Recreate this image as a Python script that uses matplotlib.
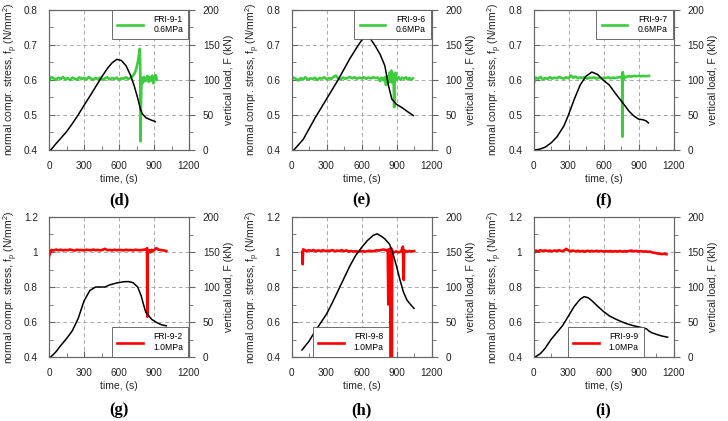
import numpy as np
import matplotlib
matplotlib.use("Agg")
import matplotlib.pyplot as plt
from matplotlib.ticker import MultipleLocator, FuncFormatter

plt.rcParams['font.family'] = ['Liberation Sans', 'DejaVu Sans']

GREEN = '#3ccc3c'
RED = '#ff0000'

# ---- black curves: vertical load F (kN) vs time (s) ----
d_t = [15, 60, 100, 150, 200, 250, 300, 350, 400, 450, 500, 540, 580, 620, 660, 700, 730, 760, 785, 800, 830,
       870, 910]
d_F = [0, 9, 16.5, 26, 37.5, 50, 63.5, 76.5, 90, 103.5, 116, 124, 129, 127.5, 120, 106, 91.5, 74, 57.5, 51.5,
       46, 43, 40.5]

e_t = [20, 100, 200, 300, 400, 500, 560, 600, 640, 680, 720, 760, 800, 830, 860, 900, 950, 1000, 1045]
e_F = [0, 15, 45, 72.5, 100, 130, 146, 156, 162.5, 157.5, 147.5, 136, 120, 92.5, 72.5, 65, 60, 54, 49]

f_t = [5, 50, 100, 150, 200, 260, 300, 350, 400, 450, 500, 550, 600, 650, 700, 770, 820, 860, 900, 940, 965, 985]
f_F = [0, 1, 4, 10, 18.5, 34, 50, 72.5, 92.5, 105, 111, 107.5, 99, 92.5, 81, 66, 55, 48.5, 44, 43, 41.5, 38.5]

g_t = [15, 60, 100, 150, 200, 250, 300, 350, 400, 440, 480, 520, 580, 640, 680, 720, 760, 790, 810, 830, 850,
       880, 920, 960, 1005]
g_F = [0, 7.5, 16.25, 26.25, 37.5, 55, 80, 95, 100, 100, 100, 103, 105.75, 107.5, 107.75, 106.25, 100, 87.5,
       75, 63.75, 60, 53.75, 49.5, 46.25, 44.5]

h_t = [90, 150, 200, 250, 300, 350, 400, 450, 500, 550, 600, 650, 700, 735, 770, 800, 840, 870, 900, 930, 960,
       990, 1020, 1050]
h_F = [10, 22.5, 36.25, 48.75, 61.25, 77.5, 95, 112.5, 130, 145, 156.25, 166.25, 173.75, 176, 172.5, 168.75,
       161.25, 147.5, 130, 110, 92.5, 81.25, 75, 69.5]

i_t = [15, 60, 100, 150, 200, 250, 300, 350, 400, 435, 470, 500, 550, 600, 650, 700, 750, 800, 850, 900, 950,
       970, 990, 1010, 1050, 1100, 1150]
i_F = [0, 5, 12.5, 25, 35, 45, 58.75, 72.5, 82.5, 86.25, 84.5, 80.5, 72.5, 65, 58.75, 54.5, 50.75, 47.5, 45, 43,
       41.25, 40, 37, 35, 32.5, 30, 28.25]

# ---- coloured curves: normal compr. stress fp (N/mm2) ----
# flat part sampled every 20 s, then an irregular tail
d_flat = [0.596, 0.607, 0.604, 0.600, 0.606, 0.602, 0.608, 0.601, 0.605, 0.599, 0.606, 0.603, 0.600, 0.607,
          0.602, 0.605, 0.601, 0.608, 0.603, 0.600, 0.605, 0.602, 0.606, 0.600, 0.604, 0.607, 0.601, 0.605,
          0.602, 0.606, 0.600, 0.604, 0.603, 0.607, 0.602, 0.606]
d_tail_t = [715, 730, 745, 760, 770, 778, 782, 785, 788, 792, 797, 805, 815, 825, 835, 845, 855, 865, 875, 885,
            895, 905, 915, 925]
d_tail = [0.610, 0.616, 0.628, 0.648, 0.668, 0.688, 0.640, 0.425, 0.520, 0.585, 0.605, 0.592, 0.608, 0.596,
          0.603, 0.611, 0.594, 0.607, 0.598, 0.612, 0.590, 0.606, 0.613, 0.600]

e_flat = [0.600, 0.606, 0.602, 0.598, 0.605, 0.601, 0.607, 0.600, 0.604, 0.602, 0.606, 0.599, 0.605, 0.603,
          0.607, 0.601, 0.605, 0.602, 0.608, 0.612, 0.604, 0.601, 0.606, 0.603, 0.605, 0.608, 0.604, 0.607,
          0.603, 0.606, 0.604, 0.607, 0.603, 0.606, 0.604, 0.607, 0.605, 0.606]
e_tail_t = [760, 770, 780, 790, 800, 810, 815, 820, 830, 840, 848, 855, 860, 868, 875, 880, 885, 892, 900, 910,
            920, 935, 950, 965, 980, 995, 1010, 1025, 1040]
e_tail = [0.596, 0.606, 0.604, 0.598, 0.607, 0.585, 0.606, 0.610, 0.590, 0.620, 0.596, 0.626, 0.592, 0.618,
          0.600, 0.522, 0.610, 0.620, 0.600, 0.604, 0.607, 0.600, 0.606, 0.603, 0.607, 0.601, 0.605, 0.600, 0.604]

f_flat = [0.588, 0.606, 0.603, 0.608, 0.601, 0.605, 0.602, 0.607, 0.603, 0.606, 0.604, 0.608, 0.605, 0.603,
          0.607, 0.604, 0.612, 0.606, 0.609, 0.604, 0.607, 0.605, 0.608, 0.603, 0.606, 0.605, 0.607, 0.603,
          0.606, 0.604, 0.606, 0.605, 0.607, 0.604, 0.606, 0.605, 0.606, 0.608]
f_tail_t = [755, 760, 762, 765, 768, 772, 780, 800, 820, 840, 860, 880, 900, 920, 940, 960, 980, 990]
f_tail = [0.606, 0.600, 0.438, 0.622, 0.598, 0.612, 0.605, 0.609, 0.610, 0.609, 0.611, 0.610, 0.611, 0.610,
          0.611, 0.610, 0.611, 0.611]

g_flat = [0.975, 1.012, 1.008, 1.014, 1.010, 1.013, 1.009, 1.012, 1.010, 1.014, 1.011, 1.008, 1.013, 1.010,
          1.012, 1.009, 1.013, 1.011, 1.010, 1.014, 1.010, 1.012, 1.009, 1.013, 1.018, 1.010, 1.012, 1.009,
          1.013, 1.010, 1.012, 1.011, 1.009, 1.013, 1.010, 1.012, 1.009, 1.013, 1.011, 1.010, 1.012, 1.014]
g_tail_t = [835, 840, 843, 846, 850, 860, 870, 880, 890, 900, 910, 920, 935, 950, 970, 990, 1005]
g_tail = [1.016, 1.022, 0.630, 1.012, 1.004, 1.010, 0.998, 1.012, 1.005, 1.011, 1.016, 1.022, 1.014, 1.012,
          1.010, 1.008, 1.006]

h_head_t = [92, 95, 100]
h_head = [1.000, 0.930, 1.015]
h_flat = [1.012, 1.005, 1.010, 1.006, 1.011, 1.004, 1.009, 1.006, 1.010, 1.005, 1.008, 1.006, 1.011, 1.005,
          1.008, 1.006, 1.010, 1.005, 1.009, 1.003, 1.006, 1.002, 1.005, 1.001, 1.004, 1.006, 1.002, 1.005,
          1.007, 1.004, 1.006, 1.010, 1.008, 1.012, 1.014, 1.010]
h_tail_t = [825, 830, 832, 836, 845, 850, 853, 856, 860, 863, 868, 880, 900, 920, 940, 955, 962, 965, 968, 975,
            990, 1010, 1030, 1050]
h_tail = [1.012, 0.700, 1.008, 1.015, 1.018, 0.380, 1.010, 1.020, 0.380, 1.008, 0.992, 1.000, 1.003, 0.998,
          1.004, 1.030, 0.840, 1.010, 1.000, 1.006, 1.002, 1.006, 1.003, 1.005]

i_flat = [0.990, 1.008, 1.004, 1.010, 1.006, 1.009, 1.005, 1.008, 1.004, 1.009, 1.006, 1.010, 1.005, 1.008,
          1.018, 1.009, 1.005, 1.008, 1.004, 1.007, 1.003, 1.006, 1.002, 1.007, 1.004, 1.006, 1.003, 1.007,
          1.004, 1.006, 1.002, 1.005, 1.003, 1.006, 1.002, 1.005, 1.003, 1.006, 1.002, 1.005, 1.003, 1.006,
          1.008, 1.004, 1.006, 1.003, 1.005, 1.002, 1.004, 1.001, 1.002, 0.997, 0.995, 0.992, 0.990, 0.988,
          0.990, 0.987]


def series(flat, start=0, tail_t=(), tail=(), head_t=(), head=()):
    t = list(head_t) + list(start + 20 * np.arange(len(flat))) + list(tail_t)
    v = list(head) + list(flat) + list(tail)
    return t, v


panels = [
    ('(d)', 'FRI-9-1\n0.6MPa', GREEN, series(d_flat, 0, d_tail_t, d_tail), (d_t, d_F), (0.4, 0.8), 'top'),
    ('(e)', 'FRI-9-6\n0.6MPa', GREEN, series(e_flat, 0, e_tail_t, e_tail), (e_t, e_F), (0.4, 0.8), 'top'),
    ('(f)', 'FRI-9-7\n0.6MPa', GREEN, series(f_flat, 0, f_tail_t, f_tail), (f_t, f_F), (0.4, 0.8), 'top'),
    ('(g)', 'FRI-9-2\n1.0MPa', RED, series(g_flat, 0, g_tail_t, g_tail), (g_t, g_F), (0.4, 1.2), 'lr'),
    ('(h)', 'FRI-9-8\n1.0MPa', RED, series(h_flat, 110, h_tail_t, h_tail, h_head_t, h_head), (h_t, h_F),
     (0.4, 1.2), 'll'),
    ('(i)', 'FRI-9-9\n1.0MPa', RED, series(i_flat, 0), (i_t, i_F), (0.4, 1.2), 'lc'),
]

fig = plt.figure(figsize=(7.28, 4.21), dpi=100)
W, H = 728, 421
lefts = [49, 291.5, 533.5]
rows = [(9.5, 150), (217, 357)]
SPINE = '#666666'
TXT = '#222222'

for k, (tag, lab, col, sig, blk, ylim, lpos) in enumerate(panels):
    r, c = divmod(k, 3)
    top, bot = rows[r]
    ax = fig.add_axes([lefts[c] / W, (H - bot) / H, 140 / W, (bot - top) / H])
    ax2 = ax.twinx()

    ax.plot(sig[0], sig[1], color=col, lw=1.9, label=lab, zorder=3)
    ax2.plot(blk[0], blk[1], color='black', lw=1.1)

    ax.set_xlim(0, 1200)
    ax.set_ylim(*ylim)
    ax2.set_ylim(0, 200)
    ax.xaxis.set_major_locator(MultipleLocator(300))
    ax.xaxis.set_minor_locator(MultipleLocator(150))
    step = 0.1 if ylim[1] < 1 else 0.2
    ax.yaxis.set_major_locator(MultipleLocator(step))
    ax.yaxis.set_minor_locator(MultipleLocator(step / 2))
    ax.yaxis.set_major_formatter(FuncFormatter(lambda v, p: f'{v:g}'))
    ax2.yaxis.set_major_locator(MultipleLocator(50))
    ax2.yaxis.set_minor_locator(MultipleLocator(25))

    ax.grid(True, which='major', color='#aaaaaa', ls=(0, (4, 3)), lw=0.7)
    ax.set_axisbelow(True)

    ax.tick_params(which='both', direction='in', labelsize=7.2, pad=8, colors=SPINE, labelcolor=TXT)
    ax.tick_params(which='major', length=4)
    ax.tick_params(which='minor', length=3)
    ax2.tick_params(which='both', direction='out', labelsize=7.2, pad=6, colors=SPINE, labelcolor=TXT)
    ax2.tick_params(which='major', length=4)
    ax2.tick_params(which='minor', length=3)
    for a in (ax, ax2):
        for s in a.spines.values():
            s.set_color(SPINE)
            s.set_linewidth(0.8)

    ax.set_xlabel('time, (s)', fontsize=7.5, labelpad=2, color=TXT)
    ax.set_ylabel('normal compr. stress, f$_\\mathregular{p}$ (N/mm$^\\mathregular{2}$)', fontsize=7.5,
                  labelpad=3, color=TXT)
    ax2.set_ylabel('vertical load, F (kN)', fontsize=7.5, labelpad=3, color=TXT)

    if lpos == 'top':
        lkw = dict(loc='upper right', bbox_to_anchor=(0.995, 1.0))
    elif lpos == 'lr':
        lkw = dict(loc='lower right', bbox_to_anchor=(0.995, 0.0))
    elif lpos == 'll':
        lkw = dict(loc='lower left', bbox_to_anchor=(0.15, 0.0))
    else:
        lkw = dict(loc='lower left', bbox_to_anchor=(0.243, 0.0))
    leg = ax2.legend(*ax.get_legend_handles_labels(), fontsize=6.2, handlelength=3.0, handletextpad=1.2,
                     borderpad=0.6, borderaxespad=0.0, fancybox=False, framealpha=1, edgecolor='#555555', **lkw)
    leg.get_frame().set_linewidth(0.6)

    cx = (lefts[c] + 70) / W
    ly = 200 if r == 0 else 410
    fig.text(cx, 1 - ly / H, tag, ha='center', va='center', fontsize=12, fontweight='bold',
             family=['Liberation Serif', 'DejaVu Serif'])

fig.savefig('out.png', dpi=100)
